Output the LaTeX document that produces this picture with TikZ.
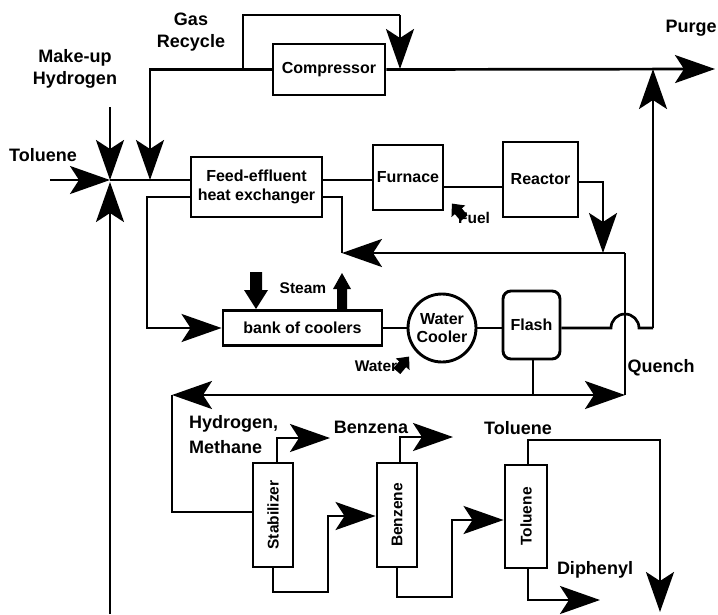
\documentclass[tikz,border=0pt]{standalone}
\usepackage{fontspec}
\setmainfont{Liberation Sans}
\usetikzlibrary{arrows.meta,calc}
\begin{document}
\begin{tikzpicture}[x=1pt,y=-1pt,
  flow/.style={line width=2.7pt, line join=miter},
  arr/.style={flow, -{Stealth[length=40pt,width=28pt,inset=9pt]}},
  unit/.style={draw, line width=2.9pt, inner sep=0pt, align=center,
               font=\fontsize{16}{19}\selectfont\bfseries},
  column/.style={unit, minimum width=40pt, minimum height=104pt},
  lbl/.style={inner sep=0pt, align=center, font=\fontsize{18}{22}\selectfont\bfseries},
  smalllbl/.style={inner sep=0pt, font=\fontsize{15.5}{18}\selectfont\bfseries},
  blockarrow/.style={fill=black}
]
\useasboundingbox (0,0) rectangle (718,614);

% ---------------- process units ----------------
\node[unit, minimum width=112pt, minimum height=51pt] (comp) at (329,69.5) {Compressor};
\node[unit, minimum width=131pt, minimum height=60pt] (feh) at (256.5,187) {Feed-effluent\\heat exchanger};
\node[unit, minimum width=70pt, minimum height=65pt] (furn) at (408,177.5) {Furnace};
\node[unit, minimum width=75pt, minimum height=75pt] (reac) at (540.5,179.5) {Reactor};
\node[unit, minimum width=159pt, minimum height=35pt] (bank) at (302.5,328) {bank of coolers};
\node[unit, circle, minimum size=68pt, font=\fontsize{16}{18}\selectfont\bfseries] (wc) at (442,328) {Water\\Cooler};
\node[unit, rounded corners=8pt, minimum width=57pt, minimum height=68pt] (flash) at (531.5,325) {Flash};
\node[column] (stab) at (273,515) {\rotatebox{90}{\fontsize{15.5}{18}\selectfont\bfseries Stabilizer}};
\node[column] (benz) at (397,515) {\rotatebox{90}{\fontsize{15.5}{18}\selectfont\bfseries Benzene}};
\node[column, minimum width=42pt, minimum height=103pt] (tolc) at (526,516.5) {\rotatebox{90}{\fontsize{15.5}{18}\selectfont\bfseries Toluene}};

% ---------------- stream labels ----------------
\node[lbl] (lgas) at (191,32) {Gas\\Recycle};
\node[lbl] (lh2) at (75,69) {Make-up\\Hydrogen};
\node[lbl] (ltol) at (43,155) {Toluene};
\node[lbl] (lpurge) at (691,28) {Purge};
\node[lbl] (lquench) at (661,368) {Quench};
\node[lbl, anchor=west, align=left, font=\fontsize{18}{25}\selectfont\bfseries] (lhm) at (189,435) {Hydrogen,\\Methane};
\node[lbl] (lbz) at (371,427) {Benzena};
\node[lbl] (ltolout) at (518,428) {Toluene};
\node[lbl] (ldip) at (595,570) {Diphenyl};
\node[smalllbl] (lsteam) at (303,288) {Steam};
\node[smalllbl] (lwater) at (376,366) {Water};
\node[smalllbl] (lfuel) at (474,218) {Fuel};

% ---------------- free stream ends and junctions ----------------
\coordinate (tolin) at (50,180);
\coordinate (mix) at (110,180);
\coordinate (h2in) at (110,107);
\coordinate (recin) at (110,614);
\coordinate (gasin) at (150,180);
\coordinate (purgeout) at (715,69);
\coordinate (vapin) at (653,69);
\coordinate (grin) at (400,69);
\coordinate (effin) at (603,253);
\coordinate (hotret) at (342,253);
\coordinate (split) at (533,395);
\coordinate (quench) at (625,395);
\coordinate (tostab) at (172,395);
\coordinate (hmout) at (330,438);
\coordinate (bzout) at (453,437);
\coordinate (tolrec) at (660,612);
\coordinate (dipout) at (600,600);

% ---------------- feed section ----------------
\draw[arr] (tolin) -- (mix);
\draw[arr] (h2in) -- (mix);
\draw[arr] (recin) -- ([yshift=-2pt]mix);
\draw[flow] (mix) -- (mix -| feh.west);
\draw[arr] (comp.west) -- (150,69.5) -- (gasin);
\draw[flow] (243,69.5) -- (243,15) -- (400,15);
\draw[arr] (400,15) -- (grin);
\draw[arr] (comp.east) -- (purgeout);

% ---------------- reaction section ----------------
\draw[flow] (mix -| feh.east) -- (mix -| furn.west);
\draw[flow] (furn.east |- 0,187) -- (reac.west |- 0,187);
\draw[arr] (reac.east |- 0,182) -- (603,182) -- (effin);
\draw[arr] (625,253) -- (hotret);
\draw[flow] (hotret) -- (342,197) -- (feh.east |- 0,197);

% ---------------- cooling and flash ----------------
\draw[arr] (feh.west |- 0,197) -- (147,197) -- (147,328) -- (bank.west);
\draw[flow] (bank.east) -- (wc.west);
\draw[flow] (wc.east) -- (wc.east -| flash.west);
\draw[flow] (flash.east |- wc) -- (611,328) arc[start angle=180, end angle=0, radius=14pt]
            -- (653,328);
\draw[arr] (653,328) -- (vapin);
\draw[flow] (flash.south -| split) -- (split);
\draw[arr] (split) -- (quench);
\draw[flow] (quench) -- (625,253);
\draw[arr] (split) -- (tostab);

% ---------------- separation train ----------------
\draw[flow] (tostab) -- (172,512) -- (stab.west |- 0,512);
\draw[arr] ([xshift=4pt]stab.north) -- (277,438) -- (hmout);
\draw[arr] (stab.south) -- (273,592) -- (328,592) -- (328,516) -- (benz.west |- 0,516);
\draw[arr] ([xshift=3pt]benz.north) -- (400,437) -- (bzout);
\draw[arr] (benz.south) -- (397,597) -- (452,597) -- (452,520) -- (tolc.west |- 0,520);
\draw[arr] ([xshift=2pt]tolc.north) -- (528,440) -- (660,440) -- (tolrec);
\draw[arr] ([xshift=2pt]tolc.south) -- (528,600) -- (dipout);

% ---------------- utility arrows ----------------
% steam in (down) and steam out (up)
\fill[blockarrow] (250,272) -- (262,272) -- (262,290) -- (268,290) -- (256,309)
                  -- (244,290) -- (250,290) -- cycle;
\fill[blockarrow] (337,311) -- (347,311) -- (347,289) -- (351,289) -- (342,273)
                  -- (333,289) -- (337,289) -- cycle;
% fuel to furnace
\begin{scope}[shift={(459,212)}, rotate=40]
  \fill[blockarrow] (0,-11) -- (9,-1) -- (4.5,-1) -- (4.5,8) -- (-4.5,8) -- (-4.5,-1) -- (-9,-1) -- cycle;
\end{scope}
% cooling water in
\begin{scope}[shift={(402,365)}, rotate=-40]
  \fill[blockarrow] (0,-11) -- (9,-1) -- (4.5,-1) -- (4.5,8) -- (-4.5,8) -- (-4.5,-1) -- (-9,-1) -- cycle;
\end{scope}

\end{tikzpicture}
\end{document}
